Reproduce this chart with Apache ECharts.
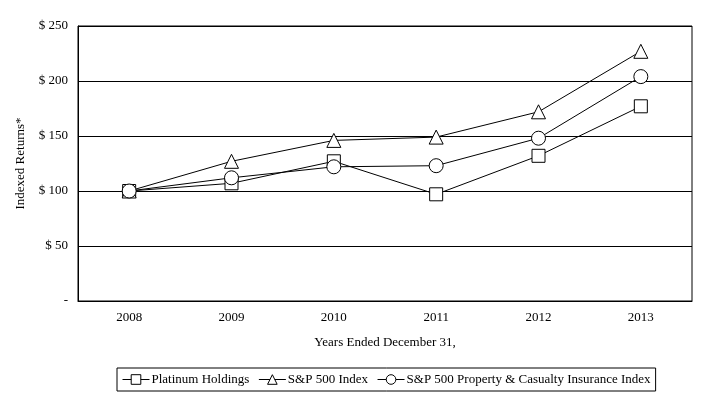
<!DOCTYPE html>
<html>
<head>
<meta charset="utf-8">
<script src="https://cdn.jsdelivr.net/npm/echarts@6/dist/echarts.min.js"></script>
<style>
  html, body { margin: 0; padding: 0; background: #fff; }
  #main { width: 706px; height: 398px; }
</style>
</head>
<body>
<div id="main"></div>
<script>
var years = ['2008', '2009', '2010', '2011', '2012', '2013'];
var platinum = [100, 107, 127, 97, 132, 177];
var sp500 = [100, 127, 146, 149, 172, 227];
var spPC = [100, 112, 122, 123, 148, 204];
var seriesNames = ['Platinum Holdings', 'S&P 500 Index', 'S&P 500 Property & Casualty Insurance Index'];

var font = 'Liberation Serif';
var myChart = echarts.init(document.getElementById('main'));

function line(name, data, symbol, size) {
    return {
        name: name,
        type: 'line',
        data: data,
        symbol: symbol,
        symbolSize: size,
        showAllSymbol: true,
        lineStyle: { color: '#000', width: 1 },
        itemStyle: { color: '#fff', borderColor: '#000', borderWidth: 1 },
        emphasis: { disabled: true },
        animation: false
    };
}

myChart.setOption({
    backgroundColor: '#fff',
    textStyle: { fontFamily: font, color: '#000' },
    grid: { left: 78, right: 14, top: 26, bottom: 97, show: true, borderColor: '#000', borderWidth: 1 },
    legend: {
        data: seriesNames,
        bottom: 7,
        left: 117,
        borderColor: '#000',
        borderWidth: 1,
        padding: [5, 5],
        itemGap: 9,
        itemWidth: 27,
        itemHeight: 12,
        lineStyle: { width: 1 },
        itemStyle: { borderWidth: 1 },
        textStyle: { fontFamily: font, fontSize: 13, color: '#000', padding: [0, 0, 0, -3] }
    },
    xAxis: {
        type: 'category',
        data: years,
        boundaryGap: true,
        name: 'Years Ended December 31,',
        nameLocation: 'middle',
        nameGap: 35,
        nameTextStyle: { fontFamily: font, fontSize: 13, color: '#000' },
        axisLine: { lineStyle: { color: '#000' } },
        axisTick: { show: false },
        axisLabel: { fontFamily: font, fontSize: 13, color: '#000', margin: 10 }
    },
    yAxis: {
        type: 'value',
        min: 0,
        max: 250,
        interval: 50,
        name: 'Indexed Returns*',
        nameLocation: 'middle',
        nameGap: 51,
        nameTextStyle: { fontFamily: font, fontSize: 13, color: '#000' },
        axisLine: { show: true, lineStyle: { color: '#000' } },
        axisTick: { show: false },
        splitLine: { lineStyle: { color: '#000', width: 1 } },
        axisLabel: {
            fontFamily: font, fontSize: 13, color: '#000', margin: 10,
            formatter: function (v) { return v === 0 ? '-' : '$ ' + v; }
        }
    },
    series: [
        line(seriesNames[0], platinum, 'rect', 13),
        line(seriesNames[1], sp500, 'triangle', 14),
        line(seriesNames[2], spPC, 'circle', 14)
    ]
});
</script>
</body>
</html>
